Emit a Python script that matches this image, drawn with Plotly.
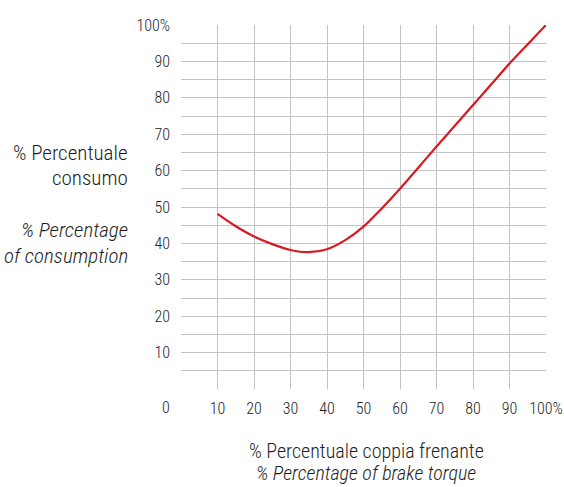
import plotly.graph_objects as go

# Data
torque_pct = [10, 15, 20, 25, 30, 35, 40, 45, 50, 55, 60, 65, 70, 75, 80, 85, 90, 95, 100]
consumption_pct = [48.1, 44.7, 41.9, 39.8, 38.2, 37.6, 38.4, 40.9, 44.6, 49.6, 55.0, 60.8,
                   66.6, 72.3, 78.0, 83.7, 89.4, 94.7, 100]

x_grid_vals = [0, 10, 20, 30, 40, 50, 60, 70, 80, 90]
y_grid_vals = [0, 5, 10, 15, 20, 25, 30, 35, 40, 45, 50, 55, 60, 65, 70, 75, 80, 85, 90, 95]
x_label_vals = [10, 20, 30, 40, 50, 60, 70, 80, 90, 100]
x_label_text = ["10", "20", "30", "40", "50", "60", "70", "80", "90", "100%"]
y_label_vals = [10, 20, 30, 40, 50, 60, 70, 80, 90, 100]
y_label_text = ["10", "20", "30", "40", "50", "60", "70", "80", "90", "100%"]

FONT = "Roboto Condensed, DejaVu Sans Condensed, Liberation Sans Narrow, sans-serif"
TXT = "#1e1e1e"
GRID = "#c3c3c6"
RED = "#d71920"
TICK_SIZE = 16
WEIGHT = 300

W, H = 564, 487
L, R, T, B = 181, 18, 25, 98
pw, ph = W - L - R, H - T - B


def px(x):
    return (x - L) / pw


def py(y):
    return (H - B - y) / ph


fig = go.Figure()
fig.add_trace(go.Scatter(
    x=torque_pct, y=consumption_pct, mode="lines",
    line=dict(color=RED, width=2.2, shape="spline", smoothing=0.8),
    hoverinfo="skip", showlegend=False,
))
fig.add_trace(go.Scatter(x=[None], y=[None], xaxis="x2", yaxis="y2",
                         showlegend=False, hoverinfo="skip"))

tickfont = dict(family=FONT, color=TXT, size=TICK_SIZE, weight=WEIGHT)

fig.update_layout(
    width=W, height=H,
    margin=dict(l=L, r=R, t=T, b=B, pad=0, autoexpand=False),
    paper_bgcolor="white", plot_bgcolor="white",
    font=dict(family=FONT, color=TXT, size=TICK_SIZE, weight=WEIGHT),
    hovermode=False,
    xaxis=dict(range=[0, 100], tickmode="array", tickvals=x_grid_vals, automargin=False,
               showticklabels=False, showgrid=True, gridcolor=GRID, gridwidth=1,
               zeroline=False, showline=False, ticks=""),
    yaxis=dict(range=[0, 100], tickmode="array", tickvals=y_grid_vals, automargin=False,
               showticklabels=False, showgrid=True, gridcolor=GRID, gridwidth=1,
               zeroline=False, showline=False, ticks=""),
    xaxis2=dict(range=[0, 100], overlaying="x", anchor="y2", side="bottom", automargin=False,
                tickmode="array", tickvals=x_label_vals, ticktext=x_label_text,
                showgrid=False, zeroline=False, showline=False, ticks="",
                tickfont=tickfont, ticklabelstandoff=8),
    yaxis2=dict(range=[0, 100], overlaying="y", anchor="x2", side="left", automargin=False,
                tickmode="array", tickvals=y_label_vals, ticktext=y_label_text,
                showgrid=False, zeroline=False, showline=False, ticks="",
                tickfont=tickfont, ticklabelstandoff=10),
)

ann = [
    dict(text="0", x=px(166), y=py(407), xanchor="center", size=TICK_SIZE),
    dict(text="% Percentuale", x=px(130), y=py(153), xanchor="right", size=21),
    dict(text="consumo", x=px(130), y=py(178), xanchor="right", size=21),
    dict(text="<i>% Percentage</i>", x=px(130), y=py(230), xanchor="right", size=21),
    dict(text="<i>of consumption</i>", x=px(130), y=py(256), xanchor="right", size=21),
    dict(text="% Percentuale coppia frenante", x=px(366), y=py(451), xanchor="center", size=20),
    dict(text="<i>% Percentage of brake torque</i>", x=px(366), y=py(473), xanchor="center", size=20),
]
for a in ann:
    fig.add_annotation(text=a["text"], x=a["x"], y=a["y"], xref="paper", yref="paper",
                       xanchor=a["xanchor"], yanchor="middle", showarrow=False,
                       font=dict(family=FONT, color=TXT, size=a["size"], weight=WEIGHT))

fig.write_html("out.html", config={"displayModeBar": False, "staticPlot": True},
               post_script="document.body.style.margin='0px';document.body.style.overflow='hidden';")
